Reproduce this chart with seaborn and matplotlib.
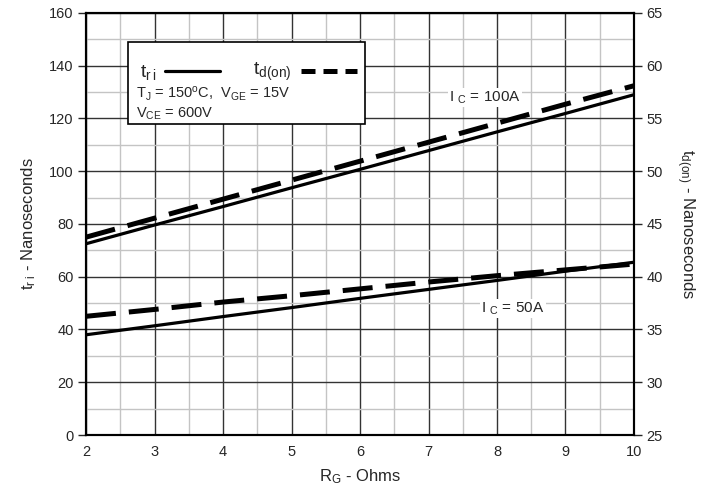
import numpy as np
import pandas as pd
import matplotlib
matplotlib.use("Agg")
import matplotlib.pyplot as plt
from matplotlib.ticker import MultipleLocator
from matplotlib.lines import Line2D
import seaborn as sns

# ===================== DATOS =====================
rg = [2, 3, 4, 5, 6, 7, 8, 9, 10]
tri_100a = [72.5, 79.6, 86.6, 93.7, 100.7, 107.8, 114.9, 121.9, 129.0]
tri_50a = [38.0, 41.4, 44.9, 48.3, 51.8, 55.2, 58.6, 62.1, 65.5]
td_100a = [43.75, 45.55, 47.35, 49.15, 50.95, 52.75, 54.55, 56.35, 58.1]
td_50a = [36.25, 36.9, 37.6, 38.2, 38.85, 39.5, 40.1, 40.65, 41.2]

df_tri = pd.DataFrame({"RG": rg * 2, "t": tri_100a + tri_50a,
                       "Ic": ["100A"] * 9 + ["50A"] * 9})
df_td = pd.DataFrame({"RG": rg * 2, "t": td_100a + td_50a,
                      "Ic": ["100A"] * 9 + ["50A"] * 9})

# ===================== ESTILO =====================
sns.set_style("white")
plt.rcParams["font.family"] = ["Liberation Sans", "DejaVu Sans"]
plt.rcParams["mathtext.fontset"] = "custom"
plt.rcParams["mathtext.rm"] = "Liberation Sans"
plt.rcParams["mathtext.it"] = "Liberation Sans"

fig = plt.figure(figsize=(7.18, 4.97), dpi=100)
ax = fig.add_axes([0.1198, 0.1247, 0.7632, 0.8493])
ax2 = ax.twinx()

# rejilla
ax.set_xlim(2, 10)
ax.set_ylim(0, 160)
ax.xaxis.set_major_locator(MultipleLocator(1))
ax.xaxis.set_minor_locator(MultipleLocator(0.5))
ax.yaxis.set_major_locator(MultipleLocator(20))
ax.yaxis.set_minor_locator(MultipleLocator(10))
ax.grid(which="minor", color="#c4c4c4", lw=1.0)
ax.grid(which="major", color="#333333", lw=1.0)
ax.set_axisbelow(True)

sns.lineplot(data=df_tri, x="RG", y="t", units="Ic", estimator=None,
             color="black", lw=2.3, ax=ax, legend=False)
sns.lineplot(data=df_td, x="RG", y="t", units="Ic", estimator=None,
             color="black", lw=3.6, ax=ax2, legend=False)
for l in ax2.lines:
    l.set_linestyle((0, (6, 2.6)))

ax2.set_ylim(25, 65)
ax2.yaxis.set_major_locator(MultipleLocator(5))

for a in (ax, ax2):
    for s in a.spines.values():
        s.set_color("black")
        s.set_linewidth(1.5)

ax.tick_params(axis="y", which="major", direction="out", length=6, width=1,
               labelsize=10.5, pad=3)
ax.tick_params(axis="y", which="minor", length=0)
ax.tick_params(axis="x", which="major", direction="inout", length=7, width=1,
               labelsize=10.5, pad=4)
ax.tick_params(axis="x", which="minor", length=0)
ax2.tick_params(axis="y", direction="out", length=6, width=1, labelsize=10.5, pad=3)

ax.set_xlabel(r"R$_\mathregular{G}$ - Ohms", fontsize=12, labelpad=6)
ax.set_ylabel(r"t$_\mathregular{r\ i}$ - Nanoseconds", fontsize=12, labelpad=8)
ax2.set_ylabel(r"t$_\mathregular{d(on)}$ - Nanoseconds", fontsize=12,
               rotation=270, labelpad=24)

# anotaciones
ax.text(7.3, 128, r"I $_\mathregular{C}$ = 100A", fontsize=11, va="center",
        bbox=dict(facecolor="white", edgecolor="none", pad=1))
ax.text(7.77, 48, r"I $_\mathregular{C}$ = 50A", fontsize=11, va="center",
        bbox=dict(facecolor="white", edgecolor="none", pad=1))

# leyenda manual
box = plt.Rectangle((0.0766, 0.736), 0.4325, 0.195, transform=ax.transAxes,
                    facecolor="white", edgecolor="black", lw=1.2, zorder=5)
ax2.add_patch(box)
ax2.text(0.098, 0.86, r"t$_\mathregular{r\,i}$", transform=ax.transAxes,
         fontsize=14, va="center", zorder=6)
ax2.add_line(Line2D([0.144, 0.244], [0.862, 0.862], transform=ax.transAxes,
                    color="black", lw=2.3, zorder=6))
ax2.text(0.305, 0.86, r"t$_\mathregular{d(on)}$", transform=ax.transAxes,
         fontsize=14, va="center", zorder=6)
ax2.add_line(Line2D([0.392, 0.494], [0.862, 0.862], transform=ax.transAxes,
                    color="black", lw=3.6, ls=(0, (2.8, 1.6)), zorder=6))
ax2.text(0.092, 0.808, r"T$_\mathregular{J}$ = 150$^\mathregular{o}$C,  V$_\mathregular{GE}$ = 15V",
         transform=ax.transAxes, fontsize=10.5, va="center", zorder=6)
ax2.text(0.092, 0.762, r"V$_\mathregular{CE}$ = 600V",
         transform=ax.transAxes, fontsize=10.5, va="center", zorder=6)

fig.savefig("out.png", dpi=100)
